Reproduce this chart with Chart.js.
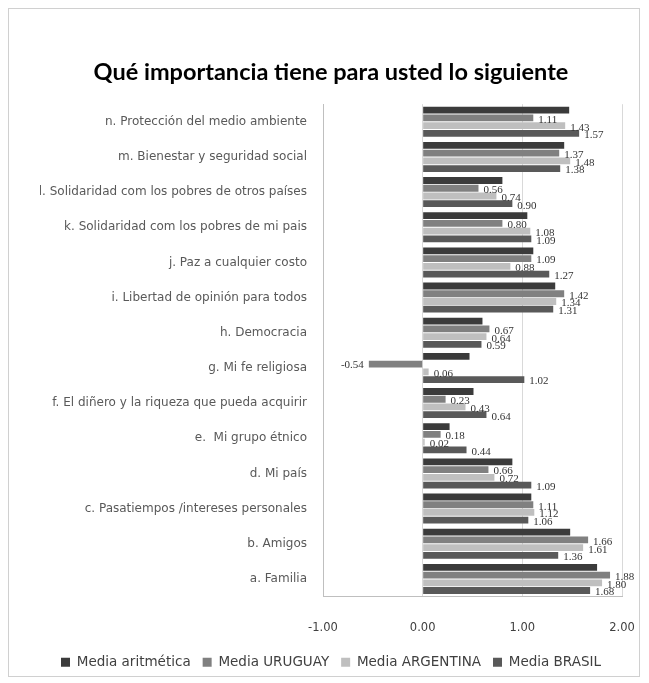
<!DOCTYPE html>
<html>
<head>
<meta charset="utf-8">
<script src="https://cdn.jsdelivr.net/npm/chart.js@4.4.1/dist/chart.umd.min.js"></script>
<style>
  html, body { margin: 0; padding: 0; background: #ffffff; }
  #wrap { position: relative; width: 649px; height: 683px; }
  #frame { position: absolute; left: 8px; top: 8px; width: 632px; height: 669px; border: 1px solid #d0d0d0; box-sizing: border-box; pointer-events: none; }
  canvas { position: absolute; left: 0; top: 0; }
</style>
</head>
<body>
<div id="wrap">
  <canvas id="c" width="649" height="683"></canvas>
  <div id="frame"></div>
</div>
<script>
const categories = [
  "n. Protección del medio ambiente",
  "m. Bienestar y seguridad social",
  "l. Solidaridad com los pobres de otros países",
  "k. Solidaridad com los pobres de mi pais",
  "j. Paz a cualquier costo",
  "i. Libertad de opinión para todos",
  "h. Democracia",
  "g. Mi fe religiosa",
  "f. El diñero y la riqueza que pueda acquirir",
  "e.  Mi grupo étnico",
  "d. Mi país",
  "c. Pasatiempos /intereses personales",
  "b. Amigos",
  "a. Familia"
];
const mediaAritmetica = [1.47, 1.42, 0.80, 1.05, 1.11, 1.33, 0.60, 0.47, 0.51, 0.27, 0.90, 1.09, 1.48, 1.75];
const mediaUruguay   = [1.11, 1.37, 0.56, 0.80, 1.09, 1.42, 0.67, -0.54, 0.23, 0.18, 0.66, 1.11, 1.66, 1.88];
const mediaArgentina = [1.43, 1.48, 0.74, 1.08, 0.88, 1.34, 0.64, 0.06, 0.43, 0.02, 0.72, 1.12, 1.61, 1.80];
const mediaBrasil    = [1.57, 1.38, 0.90, 1.09, 1.27, 1.31, 0.59, 1.02, 0.64, 0.44, 1.09, 1.06, 1.36, 1.68];
const seriesNames = ["Media aritmética", "Media URUGUAY", "Media ARGENTINA", "Media BRASIL"];
const xTicks = [-1, 0, 1, 2];
const titleText = "Qué importancia tiene para usted lo siguiente";

const colors = ["#3b3b3b", "#808080", "#bfbfbf", "#595959"];
const labelled = [false, true, true, true];

const valueLabels = {
  id: 'valueLabels',
  afterDatasetsDraw(chart) {
    const ctx = chart.ctx;
    ctx.save();
    ctx.font = '11px "Liberation Serif", serif';
    ctx.fillStyle = '#333333';
    ctx.textBaseline = 'middle';
    chart.data.datasets.forEach((ds, di) => {
      if (!labelled[di]) return;
      const meta = chart.getDatasetMeta(di);
      meta.data.forEach((bar, i) => {
        const v = ds.data[i];
        const txt = v.toFixed(2);
        if (v < 0) {
          ctx.textAlign = 'right';
          ctx.fillText(txt, bar.x - 5, bar.y + 1);
        } else {
          ctx.textAlign = 'left';
          ctx.fillText(txt, bar.x + 5, bar.y + 2);
        }
      });
    });
    ctx.restore();
  }
};

const data = {
  labels: categories,
  datasets: [mediaAritmetica, mediaUruguay, mediaArgentina, mediaBrasil].map((arr, i) => ({
    label: seriesNames[i],
    data: arr,
    backgroundColor: colors[i],
    borderWidth: 0,
    categoryPercentage: 0.88,
    barPercentage: 0.88
  }))
};

new Chart(document.getElementById('c'), {
  type: 'bar',
  data: data,
  plugins: [valueLabels],
  options: {
    indexAxis: 'y',
    responsive: false,
    animation: false,
    layout: { padding: { left: 40, right: 27, top: 10, bottom: 4 } },
    plugins: {
      title: {
        display: true,
        text: titleText,
        color: '#000000',
        font: { family: 'Lato, "Open Sans", sans-serif', size: 23.5, weight: 'bold' },
        padding: { top: 48, bottom: 18 }
      },
      legend: {
        position: 'bottom',
        labels: {
          boxWidth: 9,
          boxHeight: 9,
          padding: 12,
          color: '#404040',
          font: { family: '"DejaVu Sans", sans-serif', size: 13.5 }
        }
      },
      tooltip: { enabled: false }
    },
    scales: {
      x: {
        min: -1,
        max: 2,
        afterBuildTicks(scale) { scale.ticks = xTicks.map(v => ({ value: v })); },
        afterFit(scale) { scale.height = 47; },
        ticks: {
          callback: (v) => Number(v).toFixed(2),
          color: '#404040',
          font: { family: '"DejaVu Sans", sans-serif', size: 11.5 },
          padding: 2
        },
        grid: { color: '#d9d9d9', drawTicks: true, tickLength: 23, tickColor: 'rgba(0,0,0,0)' },
        border: { display: true, color: '#bfbfbf' }
      },
      y: {
        afterFit(scale) { scale.width = 283; },
        ticks: {
          color: '#595959',
          font: { family: '"DejaVu Sans", sans-serif', size: 12 },
          padding: 16,
          autoSkip: false
        },
        grid: { display: false, drawTicks: false },
        border: { display: true, color: '#bfbfbf' }
      }
    }
  }
});
</script>
</body>
</html>
